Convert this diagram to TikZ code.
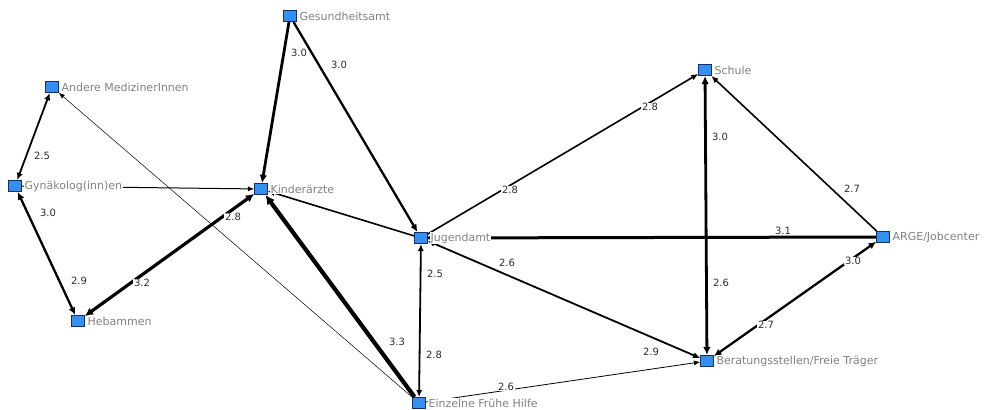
\documentclass[tikz,border=0pt]{standalone}
\usepackage{fontspec}
\setmainfont{DejaVu Sans}
\usetikzlibrary{arrows.meta}
\definecolor{actorfill}{RGB}{51,143,240}
\definecolor{actorline}{RGB}{25,45,100}
\definecolor{namegray}{RGB}{130,130,130}
\definecolor{valgray}{RGB}{45,45,45}
\begin{document}
\begin{tikzpicture}[x=1pt,y=-1pt,
  actor/.style={rectangle, draw=actorline, fill=actorfill, line width=0.6pt,
    minimum width=13pt, minimum height=11.5pt, inner sep=0pt},
  actorname/.style={anchor=west, fill=white, text=namegray, inner sep=0.6pt,
    font=\fontsize{11}{13}\selectfont},
  val/.style={fill=white, text=valgray, inner sep=0.6pt,
    font=\fontsize{10}{12}\selectfont},
  tie/.style={draw=black, line width=#1},
  head/.tip={Latex[length=5.5pt 0.9, width=4pt 1.3]},
  oneway/.style={-head},
  twoway/.style={head-head}]
\useasboundingbox (0,0) rectangle (997,410);

% actors
\node[actor] (G)  at (290,16)  {};
\node[actor] (A)  at (52,87)   {};
\node[actor] (Gy) at (15,186)  {};
\node[actor] (K)  at (261,189) {};
\node[actor] (H)  at (78,321)  {};
\node[actor] (J)  at (421,238) {};
\node[actor] (E)  at (419,403) {};
\node[actor] (S)  at (705,70)  {};
\node[actor] (R)  at (883,237) {};
\node[actor] (B)  at (707,361) {};

% ties (line width follows the tie strength)
\draw[tie=1.8pt, twoway] (A) -- (Gy);
\draw[tie=2.3pt, twoway] (Gy) -- (H);
\draw[tie=1.0pt, oneway] (Gy) -- (K);
\draw[tie=3.2pt, twoway] (H) -- (K);
\draw[tie=2.8pt, oneway] (G) -- (K);
\draw[tie=2.3pt, oneway] (G) -- (J);
\draw[tie=1.6pt, oneway] (J) -- (K);
\draw[tie=4.2pt, oneway] (E) -- (K);
\draw[tie=0.5pt, oneway] (E) -- (A);
\draw[tie=1.8pt, twoway] (J) -- (E);
\draw[tie=1.6pt, oneway] (J) -- (S);
\draw[tie=3.0pt]         (J) -- (R);
\draw[tie=1.8pt, twoway] (J) -- (B);
\draw[tie=2.8pt, twoway] (S) -- (B);
\draw[tie=1.6pt, oneway] (R) -- (S);
\draw[tie=2.3pt, twoway] (B) -- (R);
\draw[tie=0.8pt, oneway] (E) -- (B);

% tie values
\node[val] (vAGy) at (42,156)  {2.5};
\node[val] (vGyH) at (48,213)  {3.0};
\node[val] (vHGy) at (79,281)  {2.9};
\node[val] (vHK)  at (142,283) {3.2};
\node[val] (vKH)  at (233,217) {2.8};
\node[val] (vGK)  at (299,53)  {3.0};
\node[val] (vGJ)  at (339,65)  {3.0};
\node[val] (vJE)  at (435,274) {2.5};
\node[val] (vEJ)  at (434,355) {2.8};
\node[val] (vEK)  at (397,342) {3.3};
\node[val] (vJS)  at (510,190) {2.8};
\node[val] (vSJ)  at (650,107) {2.8};
\node[val] (vJR)  at (783,231) {3.1};
\node[val] (vJB)  at (507,263) {2.6};
\node[val] (vBJ)  at (651,352) {2.9};
\node[val] (vSB)  at (720,137) {3.0};
\node[val] (vBS)  at (721,283) {2.6};
\node[val] (vRS)  at (852,189) {2.7};
\node[val] (vRB)  at (853,261) {3.0};
\node[val] (vBR)  at (766,325) {2.7};
\node[val] (vEB)  at (506,387) {2.6};

% actor names
\node[actorname] (nG)  at ([xshift=2pt]G.east)  {Gesundheitsamt};
\node[actorname] (nA)  at ([xshift=2pt]A.east)  {Andere MedizinerInnen};
\node[actorname] (nGy) at ([xshift=2pt]Gy.east) {Gynäkolog(inn)en};
\node[actorname] (nK)  at ([xshift=2pt]K.east)  {Kinderärzte};
\node[actorname] (nH)  at ([xshift=2pt]H.east)  {Hebammen};
\node[actorname] (nJ)  at ([xshift=2pt]J.east)  {Jugendamt};
\node[actorname] (nE)  at ([xshift=2pt]E.east)  {Einzelne Frühe Hilfe};
\node[actorname] (nS)  at ([xshift=2pt]S.east)  {Schule};
\node[actorname] (nR)  at ([xshift=2pt]R.east)  {ARGE/Jobcenter};
\node[actorname] (nB)  at ([xshift=2pt]B.east)  {Beratungsstellen/Freie Träger};
\end{tikzpicture}
\end{document}
